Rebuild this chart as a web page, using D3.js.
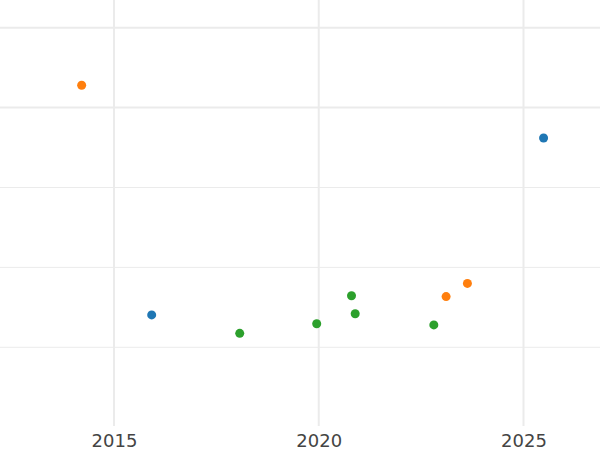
<!DOCTYPE html>
<html>
<head>
<meta charset="utf-8">
<script src="https://cdn.jsdelivr.net/npm/d3@7"></script>
<style>
  html, body { margin: 0; padding: 0; background: #fff; }
  svg { display: block; }
</style>
</head>
<body>
<div id="chart"></div>
<script>
// Data
const seriesA_x = [2015.92, 2025.49];           // blue
const seriesA_y = [28.1, 72.4];
const seriesB_x = [2014.21, 2023.11, 2023.63];  // orange
const seriesB_y = [85.6, 32.7, 36.0];
const seriesC_x = [2018.07, 2019.95, 2020.80, 2020.89, 2022.81]; // green
const seriesC_y = [23.5, 25.9, 32.9, 28.4, 25.6];
const xTicks = [2015, 2020, 2025];
const yGridMajor = [100, 80];
const yGridMinor = [60, 40, 20];

const colors = ["#1f77b4", "#ff7f0e", "#2ca02c"];
const series = [
  {x: seriesA_x, y: seriesA_y},
  {x: seriesB_x, y: seriesB_y},
  {x: seriesC_x, y: seriesC_y}
];

const W = 600, H = 450;
const plotBottom = 426;

const svg = d3.select("#chart").append("svg")
  .attr("width", W).attr("height", H);

const x = d3.scaleLinear().domain([2012.216, 2026.868]).range([0, W]);
const y = d3.scaleLinear().domain([0, 100]).range([427.2, 27.7]);

const grid = svg.append("g");
grid.selectAll("line.hmaj").data(yGridMajor).join("line")
  .attr("x1", 0).attr("x2", W)
  .attr("y1", d => y(d)).attr("y2", d => y(d))
  .attr("stroke", "#ebebeb").attr("stroke-width", 2);
grid.selectAll("line.hmin").data(yGridMinor).join("line")
  .attr("x1", 0).attr("x2", W)
  .attr("y1", d => y(d)).attr("y2", d => y(d))
  .attr("stroke", "#ebebeb").attr("stroke-width", 1);
grid.selectAll("line.v").data(xTicks).join("line")
  .attr("x1", d => x(d)).attr("x2", d => x(d))
  .attr("y1", 0).attr("y2", plotBottom)
  .attr("stroke", "#ebebeb").attr("stroke-width", 2);

const xAxis = d3.axisBottom(x).tickValues(xTicks).tickFormat(d3.format("d")).tickSize(0).tickPadding(0);
const ax = svg.append("g").attr("transform", `translate(0,${plotBottom})`).call(xAxis);
ax.select(".domain").remove();
ax.selectAll("text")
  .attr("dy", null)
  .attr("y", 21)
  .attr("font-family", "DejaVu Sans")
  .attr("font-size", 18)
  .attr("fill", "#444");

series.forEach((s, i) => {
  svg.append("g").selectAll("circle")
    .data(s.x.map((xv, j) => ({x: xv, y: s.y[j]})))
    .join("circle")
    .attr("cx", d => x(d.x))
    .attr("cy", d => y(d.y))
    .attr("r", 4.5)
    .attr("fill", colors[i]);
});
</script>
</body>
</html>
